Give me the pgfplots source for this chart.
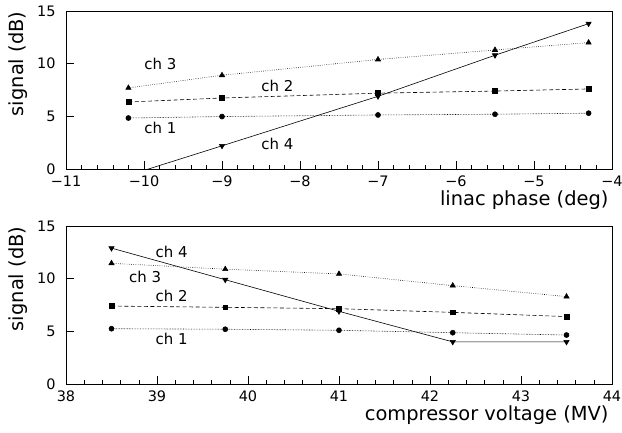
\documentclass[border=0pt]{standalone}
\usepackage{fontspec}
\setmainfont{DejaVu Sans}
\usepackage{pgfplots}
\pgfplotsset{compat=1.18}
\pgfplotsset{
  myax/.style={
    scale only axis, width=546bp, height=158bp, anchor=south west,
    ymin=0, ymax=15, ytick={0,5,10,15},
    minor x tick num=4,
    axis line style={line width=0.8pt},
    every tick/.style={black, line width=0.6pt},
    major tick length=8bp, minor tick length=4bp,
    xtick pos=bottom, ytick pos=left, tick align=inside,
    ticklabel style={font=\fontsize{14.5}{14.5}\selectfont},
    yticklabel style={xshift=-7bp},
    xticklabel style={yshift=-3.5bp},
    /pgf/number format/assume math mode=true,
    label style={font=\fontsize{19.5}{20}\selectfont},
    xlabel style={at={(rel axis cs:1,0)}, anchor=base east, yshift=-36bp},
    ylabel style={at={(rel axis cs:0,0.665)}, anchor=center, yshift=48bp},
    ylabel={signal (dB)},
    clip=true,
    every axis plot/.append style={black, line width=0.6pt},
    mark options={solid},
  },
  s1/.style={densely dotted, mark=*, mark size=2.5bp},
  s2/.style={dash pattern=on 4pt off 2.5pt, mark=square*, mark size=2.4bp},
  s3/.style={dash pattern=on 0.6pt off 1.6pt, mark=triangle*, mark size=3bp},
  s4/.style={solid, mark=triangle*, mark options={rotate=180}, mark size=3bp},
}
\begin{document}
\begin{tikzpicture}
\useasboundingbox (0,0) rectangle (622bp,-433bp);
\begin{axis}[myax, at={(66bp,-169bp)},
  xmin=-11, xmax=-4, xtick={-11,...,-4},
  xticklabels={−11,−10,−9,−8,−7,−6,−5,−4},
  xlabel={linac phase (deg)}]
\addplot[s1] coordinates {(-10.2,4.84) (-9,4.98) (-7,5.13) (-5.5,5.2) (-4.3,5.3)};
\addplot[s2] coordinates {(-10.2,6.36) (-9,6.74) (-7,7.2) (-5.5,7.4) (-4.3,7.6)};
\addplot[s3] coordinates {(-10.2,7.7) (-9,8.9) (-7,10.4) (-5.5,11.3) (-4.3,12.0)};
\addplot[s4] coordinates {(-10.2,-0.6) (-9,2.2) (-7,6.9) (-5.5,10.8) (-4.3,13.8)};
\node[font=\fontsize{15}{15}\selectfont] at (axis cs:-9.79,9.97) {ch 3};
\node[font=\fontsize{15}{15}\selectfont] at (axis cs:-8.29,7.88) {ch 2};
\node[font=\fontsize{15}{15}\selectfont] at (axis cs:-9.79,3.9) {ch 1};
\node[font=\fontsize{15}{15}\selectfont] at (axis cs:-8.29,2.37) {ch 4};
\end{axis}
\begin{axis}[myax, at={(66bp,-384bp)},
  xmin=38, xmax=44, xtick={38,...,44},
  xlabel={compressor voltage (MV)}]
\addplot[s1] coordinates {(38.5,5.25) (39.75,5.2) (41,5.1) (42.25,4.87) (43.5,4.65)};
\addplot[s2] coordinates {(38.5,7.4) (39.75,7.28) (41,7.15) (42.25,6.8) (43.5,6.4)};
\addplot[s3] coordinates {(38.5,11.46) (39.75,10.9) (41,10.45) (42.25,9.34) (43.5,8.3)};
\addplot[s4] coordinates {(38.5,12.9) (39.75,9.9) (41,6.9) (42.25,4.0) (43.5,4.0)};
\node[font=\fontsize{15}{15}\selectfont] at (axis cs:39.16,12.5) {ch 4};
\node[font=\fontsize{15}{15}\selectfont] at (axis cs:38.87,10.16) {ch 3};
\node[font=\fontsize{15}{15}\selectfont] at (axis cs:39.16,8.36) {ch 2};
\node[font=\fontsize{15}{15}\selectfont] at (axis cs:39.16,4.27) {ch 1};
\end{axis}
\end{tikzpicture}
\end{document}
